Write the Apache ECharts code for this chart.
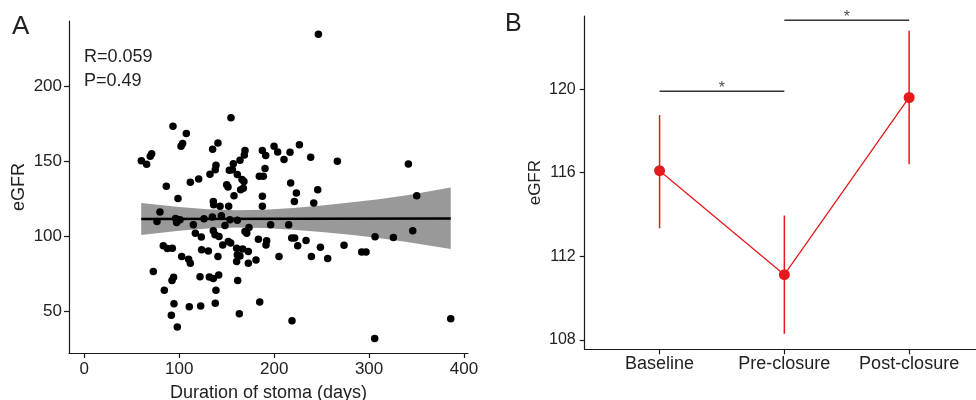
<!DOCTYPE html>
<html>
<head>
<meta charset="utf-8">
<script src="https://cdn.jsdelivr.net/npm/echarts@6/dist/echarts.min.js"></script>
<style>
html,body{margin:0;padding:0;background:#fff;}
#chart{width:976px;height:400px;}
</style>
</head>
<body>
<div id="chart"></div>
<script>
// ---------- Panel A data ----------
const durationDays = [246.6,154.5,93.4,107.5,103.6,101.9,140.8,135.2,71.0,69.5,
60.1,65.7,169.3,168.6,164.0,157.0,138.7,138.0,132.4,152.8,
156.0,161.2,166.1,168.2,150.0,151.4,157.7,164.7,167.5,120.5,
111.7,86.4,98.7,187.6,191.1,199.9,203.7,210.4,216.7,226.6,
238.5,266.6,341.4,190.4,184.4,188.6,217.4,223.4,245.9,241.7,
221.3,187.6,187.6,350.2,346.0,325.6,306.3,135.9,136.3,143.0,
152.1,79.7,76.6,96.2,97.3,100.8,114.9,126.1,134.9,144.4,
148.2,153.5,161.2,169.3,171.1,173.5,117.0,123.3,135.9,137.7,
141.9,145.8,151.7,154.2,196.3,215.3,183.4,192.1,191.4,218.5,
221.6,233.6,224.8,248.7,273.6,292.2,296.8,83.2,87.5,92.7,
123.6,130.7,160.5,166.8,172.8,161.2,164.0,172.8,180.9,205.1,
239.2,256.4,102.6,109.9,111.7,140.8,160.5,72.7,121.9,131.7,
135.9,141.6,94.1,92.4,161.6,84.3,138.7,94.5,110.6,122.6,
138.0,184.8,91.7,163.3,98.0,218.8,386.0,305.9];
const egfr = [234.4,178.9,173.3,168.4,161.8,160.0,162.2,158.0,154.9,153.3,
150.4,148.0,157.1,154.2,150.7,148.4,147.3,144.4,141.3,144.0,
144.4,141.1,137.8,136.5,134.4,132.9,127.1,131.1,132.0,138.2,
136.0,133.3,125.3,157.1,153.8,160.0,156.2,151.1,156.0,160.9,
152.7,150.0,148.2,145.1,140.0,140.0,135.6,128.9,131.1,122.2,
123.3,126.7,120.0,127.1,103.8,99.3,99.8,123.3,121.1,120.0,
120.0,116.2,110.0,112.0,109.3,111.1,107.8,111.8,112.9,113.8,
107.3,111.1,110.7,103.3,102.2,106.0,102.2,99.6,103.8,101.1,
100.0,94.4,96.7,95.6,107.8,107.8,98.2,97.1,94.4,98.9,
98.9,97.3,93.8,92.9,94.2,89.6,89.6,93.8,92.0,92.2,
91.1,90.4,92.2,91.6,90.0,87.8,87.1,82.2,84.4,86.7,
86.7,85.3,86.7,84.9,82.2,86.7,83.3,76.7,73.3,73.1,
72.0,74.4,72.9,70.7,70.7,64.2,64.2,55.3,53.3,53.8,
55.6,56.4,47.6,48.7,39.8,44.0,45.3,32.2];
const fitX = [60, 386];
const fitY = [111.6, 112.0];
const bandX = [60, 100, 130, 160, 190, 220, 250, 280, 310, 340, 386];
const bandLower = [100.9, 103.8, 105.3, 105.9, 105.6, 104.5, 102.9, 101.2, 98.9, 96.4, 91.6];
const bandUpper = [122.3, 119.6, 118.1, 117.4, 117.8, 118.9, 120.6, 122.5, 124.8, 127.4, 132.5];
const aXTicks = [0, 100, 200, 300, 400];
const aYTicks = [50, 100, 150, 200];
const corrText = ['R=0.059', 'P=0.49'];

// ---------- Panel B data ----------
const phases = ['Baseline', 'Pre-closure', 'Post-closure'];
const meanEgfr = [116.1, 111.12, 119.6];
const errLow = [113.34, 108.29, 116.4];
const errHigh = [118.76, 113.95, 122.79];
const bYTicks = [108, 112, 116, 120];
const sigPairs = [[1, 2], [2, 3]];
const sigHeights = [119.9, 123.3];
const sigLabels = ['*', '*'];

const FONT = 'Liberation Sans';
const TXT = '#222';
const AX = '#1a1a1a';

const chart = echarts.init(document.getElementById('chart'), null, {renderer: 'canvas'});

const scatterData = durationDays.map((d, i) => [d, egfr[i]]);
const bandData = bandX.map((x, i) => [x, bandLower[i], bandUpper[i]]);
const errData = phases.map((p, i) => [i + 1, errLow[i], errHigh[i]]);

const axisCommon = {
  axisLine: {show: true, onZero: false, lineStyle: {color: AX, width: 1.2}},
  axisTick: {show: true, length: 5, lineStyle: {color: AX, width: 1.2}},
  splitLine: {show: false},
  axisLabel: {color: TXT, fontFamily: FONT, fontSize: 17},
  nameTextStyle: {color: TXT, fontFamily: FONT, fontSize: 18}
};

const series = [
  {
    type: 'custom', xAxisIndex: 0, yAxisIndex: 0, z: 1, silent: true,
    data: [0],
    renderItem: function (params, api) {
      const pts = [];
      bandData.forEach(b => pts.push(api.coord([b[0], b[2]])));
      for (let i = bandData.length - 1; i >= 0; i--) pts.push(api.coord([bandData[i][0], bandData[i][1]]));
      return {type: 'polygon', shape: {points: pts, smooth: 0}, style: {fill: '#999999'}};
    }
  },
  {
    type: 'scatter', xAxisIndex: 0, yAxisIndex: 0, z: 2,
    data: scatterData, symbolSize: 7.5,
    itemStyle: {color: '#000', opacity: 1}
  },
  {
    type: 'line', xAxisIndex: 0, yAxisIndex: 0, z: 3,
    data: fitX.map((x, i) => [x, fitY[i]]), symbol: 'none',
    lineStyle: {color: '#000', width: 2.5}
  },
  // Panel B
  {
    type: 'custom', xAxisIndex: 1, yAxisIndex: 1, z: 2,
    data: errData,
    renderItem: function (params, api) {
      const p1 = api.coord([api.value(0), api.value(1)]);
      const p2 = api.coord([api.value(0), api.value(2)]);
      return {type: 'line', shape: {x1: p1[0], y1: p1[1], x2: p2[0], y2: p2[1]},
        style: {stroke: '#E41A1C', lineWidth: 1.5}};
    }
  },
  {
    type: 'line', xAxisIndex: 1, yAxisIndex: 1, z: 3,
    data: meanEgfr.map((v, i) => [i + 1, v]),
    symbol: 'circle', symbolSize: 11,
    itemStyle: {color: '#E41A1C', opacity: 1},
    lineStyle: {color: '#E41A1C', width: 1.3}
  }
];

sigPairs.forEach((pair, k) => {
  series.push({
    type: 'line', xAxisIndex: 1, yAxisIndex: 1, z: 3, symbol: 'none',
    data: [[pair[0], sigHeights[k]], [pair[1], sigHeights[k]]],
    lineStyle: {color: '#333', width: 1.4}
  });
  series.push({
    type: 'scatter', xAxisIndex: 1, yAxisIndex: 1, z: 4, symbolSize: 0,
    data: [[(pair[0] + pair[1]) / 2, sigHeights[k]]],
    label: {show: true, position: 'top', distance: -5, formatter: sigLabels[k],
      color: '#222', fontFamily: FONT, fontSize: 16}
  });
});

const option = {
  backgroundColor: '#fff',
  animation: false,
  grid: [
    {left: 69, top: 21, width: 399, height: 332, outerBoundsMode: 'none', containLabel: false},
    {left: 584.7, top: 16, width: 399.3, height: 333.3, outerBoundsMode: 'none', containLabel: false}
  ],
  xAxis: [
    Object.assign({}, axisCommon, {
      gridIndex: 0, type: 'value', min: -16.1, max: 404.2,
      name: 'Duration of stoma (days)', nameLocation: 'middle', nameGap: 31,
      axisTick: Object.assign({}, axisCommon.axisTick, {customValues: aXTicks}),
      axisLabel: Object.assign({}, axisCommon.axisLabel, {customValues: aXTicks, margin: 8})
    }),
    Object.assign({}, axisCommon, {
      gridIndex: 1, type: 'value', min: 0.4, max: 3.6,
      axisTick: Object.assign({}, axisCommon.axisTick, {customValues: [1, 2, 3]}),
      axisLabel: Object.assign({}, axisCommon.axisLabel, {customValues: [1, 2, 3], margin: 6, fontSize: 18,
        formatter: v => phases[Math.round(v) - 1] || ''})
    })
  ],
  yAxis: [
    Object.assign({}, axisCommon, {
      gridIndex: 0, type: 'value', min: 22.55, max: 243.2,
      name: 'eGFR', nameLocation: 'middle', nameGap: 41,
      axisTick: Object.assign({}, axisCommon.axisTick, {customValues: aYTicks}),
      axisLabel: Object.assign({}, axisCommon.axisLabel, {customValues: aYTicks, margin: 7})
    }),
    Object.assign({}, axisCommon, {
      gridIndex: 1, type: 'value', min: 107.55, max: 123.5,
      name: 'eGFR', nameLocation: 'middle', nameGap: 41,
      nameTextStyle: Object.assign({}, axisCommon.nameTextStyle, {fontSize: 17}),
      axisTick: Object.assign({}, axisCommon.axisTick, {customValues: bYTicks}),
      axisLabel: Object.assign({}, axisCommon.axisLabel, {customValues: bYTicks, margin: 9, fontSize: 16})
    })
  ],
  graphic: [
    {type: 'text', left: 12, top: 14, style: {text: 'A', font: '26px "Liberation Sans"', fill: '#222'}},
    {type: 'text', left: 505, top: 12, style: {text: 'B', font: '25px "Liberation Sans"', fill: '#222'}},
    {type: 'text', left: 84, top: 48, style: {text: corrText[0], font: '18px "Liberation Sans"', fill: '#222'}},
    {type: 'text', left: 84, top: 72, style: {text: corrText[1], font: '18px "Liberation Sans"', fill: '#222'}}
  ],
  series: series
};
chart.setOption(option);
</script>
</body>
</html>
